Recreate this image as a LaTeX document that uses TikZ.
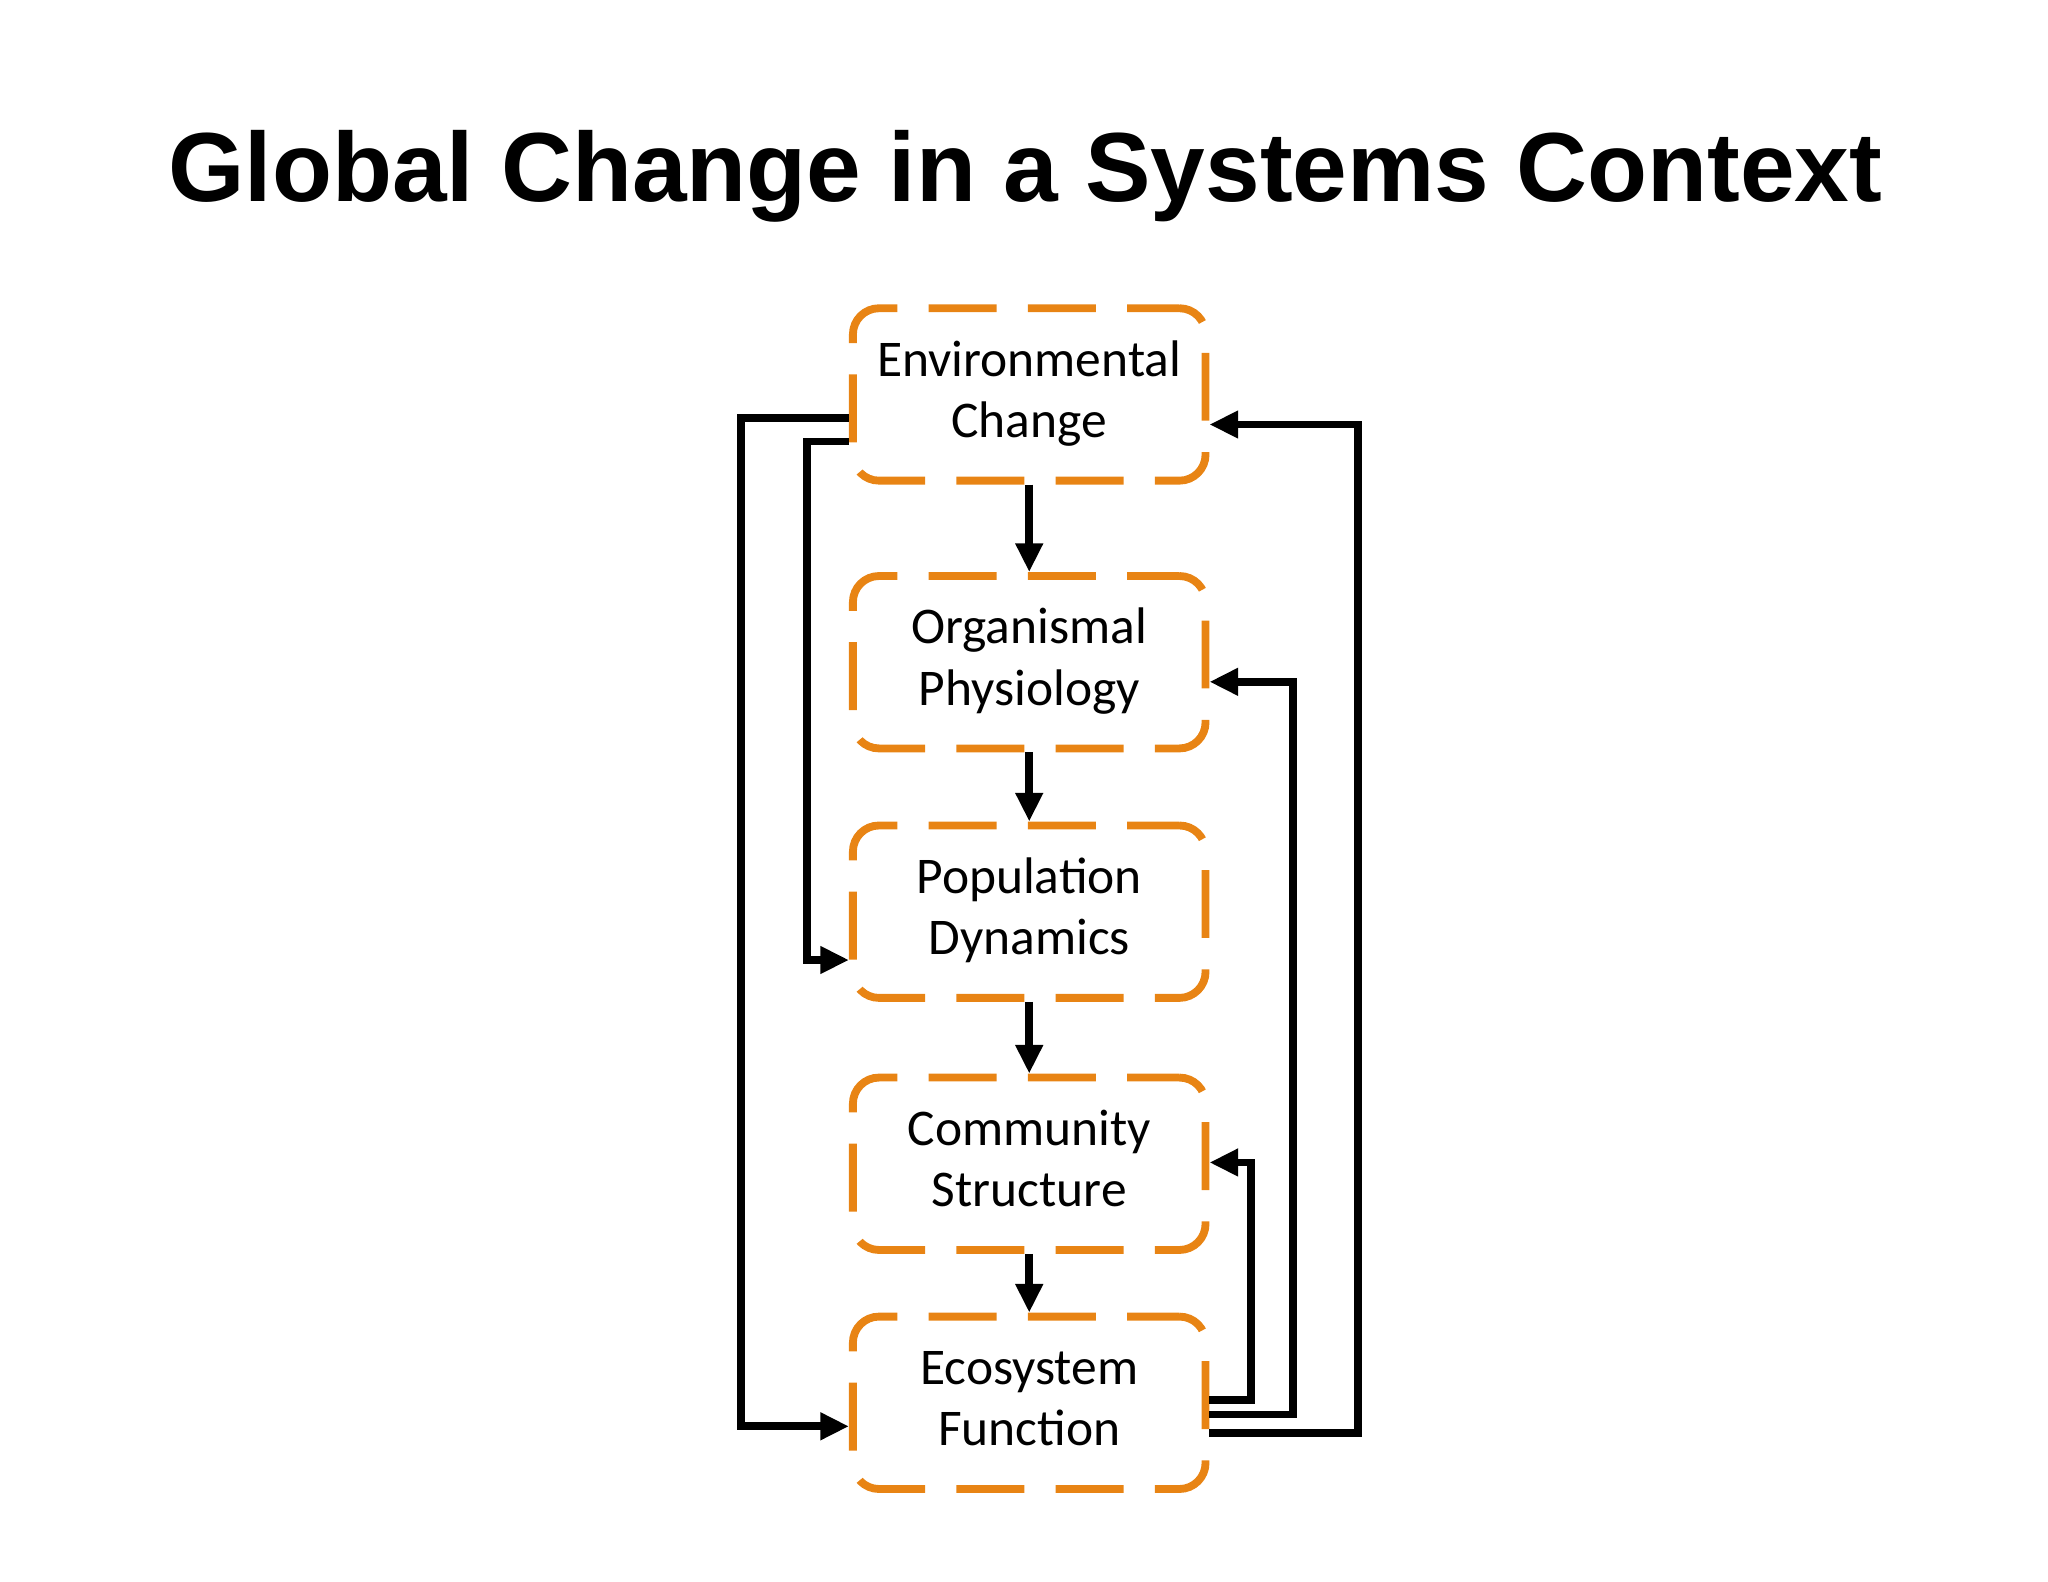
\documentclass[tikz,border=0pt]{standalone}
\usepackage{fontspec}
\setmainfont{Carlito}
\newfontfamily\titlefont{Liberation Sans}
\usetikzlibrary{calc,arrows.meta}
\definecolor{boxorange}{RGB}{232,132,20}
\newcommand{\twol}[2]{\raisebox{-3pt}{\begin{tabular}{@{}c@{}}#1\\#2\end{tabular}}}
\begin{document}
\begin{tikzpicture}[x=0.5pt,y=-0.5pt,
  sbox/.style={draw=boxorange,line width=3pt,rounded corners=10pt,dash pattern=on 26pt off 12pt,dash phase=6pt,
    minimum width=135pt,minimum height=66pt,align=center,inner sep=0pt,font=\fontsize{19.7}{23.5}\selectfont},
  conn/.style={line width=3pt,-{Triangle[length=11pt,width=10pt]}}]
\useasboundingbox (0,0) rectangle (1568,1211);
\node[font=\titlefont\bfseries\fontsize{37.6}{42}\selectfont] (t) at (785,135) {Global Change in a Systems Context};
\node[sbox] (e) at (788,302) {\twol{Environmental}{Change}};
\node[sbox] (o) at (788,507) {\twol{Organismal}{Physiology}};
\node[sbox] (p) at (788,698) {\twol{Population}{Dynamics}};
\node[sbox] (c) at (788,891) {\twol{Community}{Structure}};
\node[sbox] (f) at (788,1074) {\twol{Ecosystem}{Function}};
\draw[conn] (e) -- (o);
\draw[conn] (o) -- (p);
\draw[conn] (p) -- (c);
\draw[conn] (c) -- (f);
\draw[conn] ($(e.west)+(0,18)$) -| (567,1092) -- ($(f.west)+(0,18)$);
\draw[conn] ($(e.west)+(0,36)$) -| (618,735) -- ($(p.west)+(0,37)$);
\draw[conn] ($(f.east)+(0,23)$) -| (1040,325) -- ($(e.east)+(0,23)$);
\draw[conn] ($(f.east)+(0,9)$) -| (990,522) -- ($(o.east)+(0,15)$);
\draw[conn] ($(f.east)+(0,-2)$) -| (958,890) -- ($(c.east)+(0,-1)$);
\end{tikzpicture}
\end{document}
